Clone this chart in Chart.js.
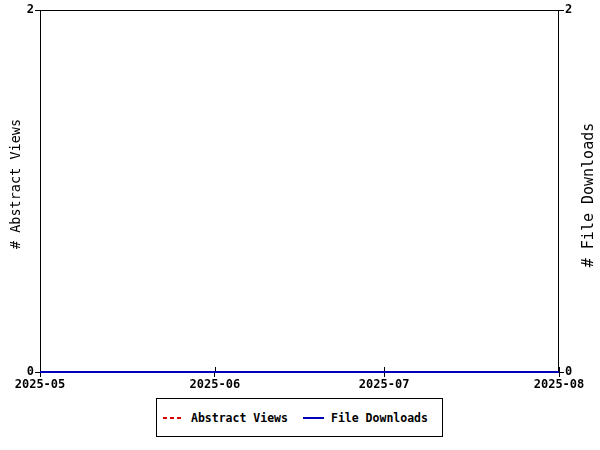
<!DOCTYPE html>
<html>
<head>
<meta charset="utf-8">
<script src="https://cdn.jsdelivr.net/npm/chart.js@4"></script>
<style>
  body { margin: 0; background: #fff; }
  #wrap { position: relative; width: 600px; height: 450px; }
  #legend {
    position: absolute; left: 156px; top: 398px; width: 285px; height: 37px;
    border: 1px solid #000; background: #fff;
    font: bold 11.5px "DejaVu Sans Mono", monospace; color: #000;
  }
  .item { position: absolute; top: 12px; display: flex; align-items: center; height: 14px; }
  .item svg { margin-right: 7px; }
</style>
</head>
<body>
<div id="wrap">
  <canvas id="chart" width="600" height="450"></canvas>
  <div id="legend"></div>
</div>
<script>
// data
const dates = ["2025-05-01", "2025-06-01", "2025-07-01", "2025-08-01"];
const abstractViews = [0, 0, 0, 0];
const fileDownloads = [0, 0, 0, 0];
const tickLabels = ["2025-05", "2025-06", "2025-07", "2025-08"];
const yTicks = [0, 2];

const day0 = Date.parse(dates[0]);
const days = dates.map((d) => (Date.parse(d) - day0) / 864e5);
const pts = (vals) => vals.map((v, i) => ({ x: days[i], y: v }));

const tickFont = { family: "DejaVu Sans Mono", size: 12, weight: "bold" };

// frame + inner x tick marks (under the lines), rotated titles
const extras = {
  id: "extras",
  beforeDatasetsDraw(chart) {
    const { ctx, chartArea: a } = chart;
    ctx.save();
    ctx.strokeStyle = "#000";
    ctx.lineWidth = 1;
    ctx.strokeRect(a.left + 0.5, a.top + 0.5, a.right - a.left - 1, a.bottom - a.top);
    const xs = chart.scales.x;
    ctx.beginPath();
    xs.ticks.forEach((t) => {
      const px = Math.round(xs.getPixelForValue(t.value)) + 0.5;
      ctx.moveTo(px, a.bottom);
      ctx.lineTo(px, a.bottom - 5);
    });
    ctx.stroke();
    ctx.restore();
  },
  afterDraw(chart) {
    const { ctx } = chart;
    ctx.save();
    ctx.fillStyle = "#000";
    ctx.textAlign = "center";
    ctx.textBaseline = "middle";
    ctx.font = "13.5px 'DejaVu Sans Mono'";
    ctx.translate(16, 184);
    ctx.rotate(-Math.PI / 2);
    ctx.fillText("# Abstract Views", 0, 0);
    ctx.restore();

    ctx.save();
    ctx.fillStyle = "#000";
    ctx.textAlign = "center";
    ctx.textBaseline = "middle";
    ctx.font = "15px 'DejaVu Sans Mono'";
    ctx.translate(589, 195);
    ctx.rotate(-Math.PI / 2);
    ctx.fillText("# File Downloads", 0, 0);
    ctx.restore();
  },
};

const yScale = (pos, width) => ({
  position: pos,
  min: 0,
  max: 2,
  afterBuildTicks: (s) => { s.ticks = yTicks.map((v) => ({ value: v })); },
  afterFit: (s) => { s.width = width; },
  grid: { drawOnChartArea: false, tickLength: 5, color: "#000", tickWidth: 1 },
  border: { display: false },
  ticks: { color: "#000", font: tickFont, padding: 1 },
});

new Chart(document.getElementById("chart"), {
  type: "line",
  data: {
    datasets: [
      {
        label: "Abstract Views",
        data: pts(abstractViews),
        yAxisID: "y",
        borderColor: "#dd0000",
        borderDash: [4, 3],
        borderWidth: 2,
        pointRadius: 0,
        clip: false,
        order: 1,
      },
      {
        label: "File Downloads",
        data: pts(fileDownloads),
        yAxisID: "y2",
        borderColor: "#0000b4",
        borderWidth: 2,
        pointRadius: 0,
        clip: false,
        order: 0,
      },
    ],
  },
  options: {
    responsive: false,
    animation: false,
    layout: { padding: { top: 10, left: 0, right: 0, bottom: 0 } },
    plugins: { legend: { display: false }, tooltip: { enabled: false } },
    scales: {
      x: {
        type: "linear",
        min: days[0],
        max: days[days.length - 1],
        afterBuildTicks: (s) => { s.ticks = days.map((v) => ({ value: v })); },
        afterFit: (s) => { s.height = 78; },
        grid: { drawOnChartArea: false, tickLength: 5, color: "#000" },
        border: { display: false },
        ticks: {
          color: "#000",
          font: tickFont,
          padding: 1,
          maxRotation: 0,
          callback: (v) => tickLabels[days.indexOf(v)],
        },
      },
      y: yScale("left", 40),
      y2: yScale("right", 41),
    },
  },
  plugins: [extras],
});

// legend
const legendItems = [
  { label: "Abstract Views", color: "#dd0000", dash: "4,3", left: 6 },
  { label: "File Downloads", color: "#0000b4", dash: "", left: 146 },
];
document.getElementById("legend").innerHTML = legendItems
  .map(
    (it) => `<div class="item" style="left:${it.left}px">
      <svg width="21" height="4"><line x1="0" y1="2" x2="21" y2="2" stroke="${it.color}" stroke-width="2" stroke-dasharray="${it.dash}"/></svg>${it.label}</div>`
  )
  .join("");
</script>
</body>
</html>
